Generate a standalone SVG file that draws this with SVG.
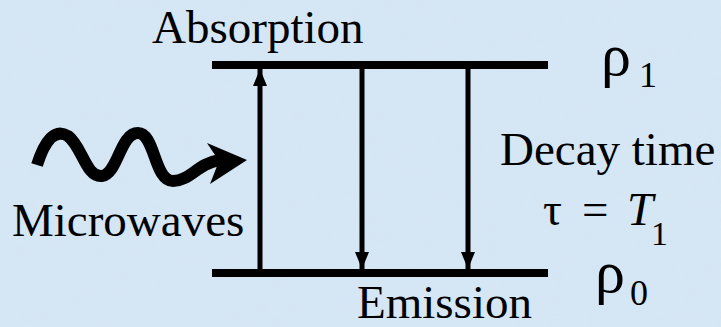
<svg xmlns="http://www.w3.org/2000/svg" width="721" height="327" viewBox="0 0 721 327">
  <defs>
    <filter id="paper" x="0" y="0" width="100%" height="100%">
      <feTurbulence type="fractalNoise" baseFrequency="0.06 0.09" numOctaves="3" seed="7" result="n"/>
      <feColorMatrix in="n" type="matrix" values="0 0 0 0 0.66  0 0 0 0 0.77  0 0 0 0 0.9  0 0 0 -1.1 0.75"/>
    </filter>
    <marker id="head" viewBox="0 0 17 14" refX="17" refY="7" markerWidth="17" markerHeight="14" markerUnits="userSpaceOnUse" orient="auto">
      <path d="M0,0 L17,7 L0,14 Z" fill="#000"/>
    </marker>
    <style>
      text { font-family: "Times New Roman", "Liberation Serif", "DejaVu Serif", serif; fill: #000; }
      .lbl { font-size: 47px; }
      .level { stroke: #000; stroke-width: 8; fill: none; }
      .trans { stroke: #000; stroke-width: 5; fill: none; marker-end: url(#head); }
    </style>
  </defs>

  <!-- background -->
  <rect width="721" height="327" fill="#d5e6f4"/>
  <rect width="721" height="327" filter="url(#paper)" opacity="0.4"/>

  <!-- energy levels -->
  <g id="level-upper">
    <line class="level" x1="212" y1="65" x2="548" y2="65"/>
    <text x="601" y="75" font-size="60">ρ</text>
    <text x="639" y="87" font-size="36">1</text>
  </g>
  <g id="level-lower">
    <line class="level" x1="212" y1="273" x2="548" y2="273"/>
    <text x="595" y="292" font-size="60">ρ</text>
    <text x="630" y="305" font-size="36">0</text>
  </g>

  <!-- transitions -->
  <g id="connectors">
    <line class="trans" x1="260" y1="273" x2="260" y2="69"/>
    <line class="trans" x1="362" y1="65" x2="362" y2="269"/>
    <line class="trans" x1="468" y1="65" x2="468" y2="269"/>
  </g>

  <g id="absorption">
    <text class="lbl" x="152" y="43">Absorption</text>
  </g>
  <g id="emission">
    <text class="lbl" x="357" y="318">Emission</text>
  </g>

  <!-- incoming microwave photon -->
  <g id="microwaves">
    <path d="M37,165 C45,140 55,128 68,136 C82,146 86,178 102,176 C118,174 120,133 138,133 C155,133 154,181 173,181 C190,181 198,163 220,160" fill="none" stroke="#000" stroke-width="12" stroke-linecap="butt"/>
    <path d="M207,143 L247,160 L210,184 L219,161 Z" fill="#000"/>
    <text class="lbl" x="12" y="236">Microwaves</text>
  </g>

  <g id="decay">
    <text class="lbl" x="500" y="165">Decay time</text>
    <text x="543" y="225" font-size="47">τ</text>
    <text x="582" y="225" font-size="47">=</text>
    <text x="627" y="225" font-size="47" font-style="italic">T</text>
    <text x="651" y="245" font-size="34">1</text>
  </g>
</svg>
